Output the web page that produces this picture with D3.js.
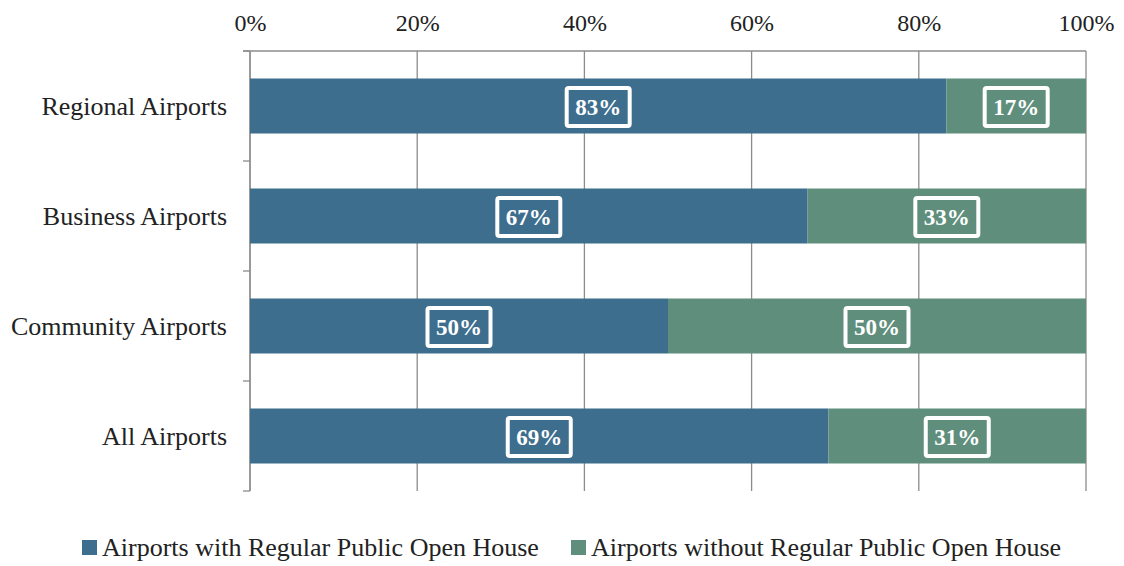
<!DOCTYPE html>
<html>
<head>
<meta charset="utf-8">
<script src="https://cdn.jsdelivr.net/npm/d3@7"></script>
<style>
  body { margin: 0; background: #fff; }
  svg text { font-family: 'Liberation Serif' !important; }
</style>
</head>
<body>
<script>
const categories = ['Regional Airports', 'Business Airports', 'Community Airports', 'All Airports'];
const withOpenHouse = [83.3, 66.7, 50, 69.2];
const withoutOpenHouse = [16.7, 33.3, 50, 30.8];
const seriesNames = ['Airports with Regular Public Open House', 'Airports without Regular Public Open House'];
const xTicks = [0, 20, 40, 60, 80, 100];

const colors = ['#3d6e8e', '#5f8f7c'];
const FONT = 'Liberation Serif';

const margin = { left: 250, right: 38, top: 51, bottom: 75 };
const width = 1124 - margin.left - margin.right;
const height = 566 - margin.top - margin.bottom;

const svg = d3.select('body')
  .append('svg')
  .attr('width', 1124)
  .attr('height', 566)
  .attr('font-family', FONT);

const g = svg.append('g')
  .attr('transform', 'translate(' + margin.left + ', ' + margin.top + ')');

const x = d3.scaleLinear().domain([0, 100]).range([0, width]);
const y = d3.scaleBand().domain(categories).range([0, height])
  .paddingInner(0.5).paddingOuter(0.25);

// gridlines
g.selectAll('.grid')
  .data(xTicks)
  .enter().append('line')
  .attr('x1', d => x(d)).attr('x2', d => x(d))
  .attr('y1', 0).attr('y2', height)
  .attr('stroke', '#8c8c8c')
  .attr('stroke-width', 1.3);

// top axis
const xAxis = g.append('g')
  .call(d3.axisTop(x).tickValues(xTicks).tickFormat(d => d + '%').tickSize(0).tickPadding(20))
  .attr('font-family', FONT)
  .attr('font-size', 24);
xAxis.select('.domain').remove();
xAxis.selectAll('text')
  .attr('fill', '#222');
g.append('line')
  .attr('x1', -7).attr('x2', width)
  .attr('y1', 0).attr('y2', 0)
  .attr('stroke', '#8c8c8c').attr('stroke-width', 1.3);

// left axis with boundary ticks
g.append('line')
  .attr('x1', 0).attr('x2', 0)
  .attr('y1', 0).attr('y2', height)
  .attr('stroke', '#8c8c8c').attr('stroke-width', 1.3);
const bounds = d3.range(categories.length + 1).map(i => i * y.step());
g.selectAll('.ytick')
  .data(bounds)
  .enter().append('line')
  .attr('x1', -7).attr('x2', 0)
  .attr('y1', d => d).attr('y2', d => d)
  .attr('stroke', '#8c8c8c').attr('stroke-width', 1.3);

g.selectAll('.cat')
  .data(categories)
  .enter().append('text')
  .attr('x', -23)
  .attr('y', d => y(d) + y.bandwidth() / 2)
  .attr('dy', '0.35em')
  .attr('text-anchor', 'end')
  .attr('font-size', 26)
  .attr('fill', '#222')
  .text(d => d);

// stacked bars
const rows = categories.map((c, i) => ({ cat: c, values: [withOpenHouse[i], withoutOpenHouse[i]] }));
const segs = [];
rows.forEach(r => {
  let x0 = 0;
  r.values.forEach((v, j) => {
    segs.push({ cat: r.cat, x0: x0, x1: x0 + v, v: v, s: j });
    x0 += v;
  });
});

g.selectAll('.bar')
  .data(segs)
  .enter().append('rect')
  .attr('x', d => x(d.x0))
  .attr('width', d => x(d.x1) - x(d.x0))
  .attr('y', d => y(d.cat))
  .attr('height', y.bandwidth())
  .attr('fill', d => colors[d.s]);

// labels with white boxes
const lab = g.selectAll('.lab')
  .data(segs)
  .enter().append('g')
  .attr('transform', d => 'translate(' + x((d.x0 + d.x1) / 2) + ',' + (y(d.cat) + y.bandwidth() / 2 + 1) + ')');
lab.append('rect')
  .attr('x', -31.5).attr('y', -19)
  .attr('width', 63).attr('height', 38)
  .attr('rx', 2)
  .attr('fill', 'none')
  .attr('stroke', '#fff')
  .attr('stroke-width', 4);
lab.append('text')
  .attr('text-anchor', 'middle')
  .attr('dy', '0.35em')
  .attr('font-size', 23)
  .attr('font-weight', 'bold')
  .attr('fill', '#fff')
  .text(d => Math.round(d.v) + '%');

// legend
const legendX = [82, 571];
const legend = svg.selectAll('.legend')
  .data(seriesNames)
  .enter().append('g')
  .attr('transform', (d, i) => 'translate(' + legendX[i] + ', 547)');
legend.append('rect')
  .attr('x', 0).attr('y', -7)
  .attr('width', 15).attr('height', 15)
  .attr('fill', (d, i) => colors[i]);
legend.append('text')
  .attr('x', 20)
  .attr('dy', '0.35em')
  .attr('font-size', 26)
  .attr('fill', '#222')
  .text(d => d);
</script>
</body>
</html>
